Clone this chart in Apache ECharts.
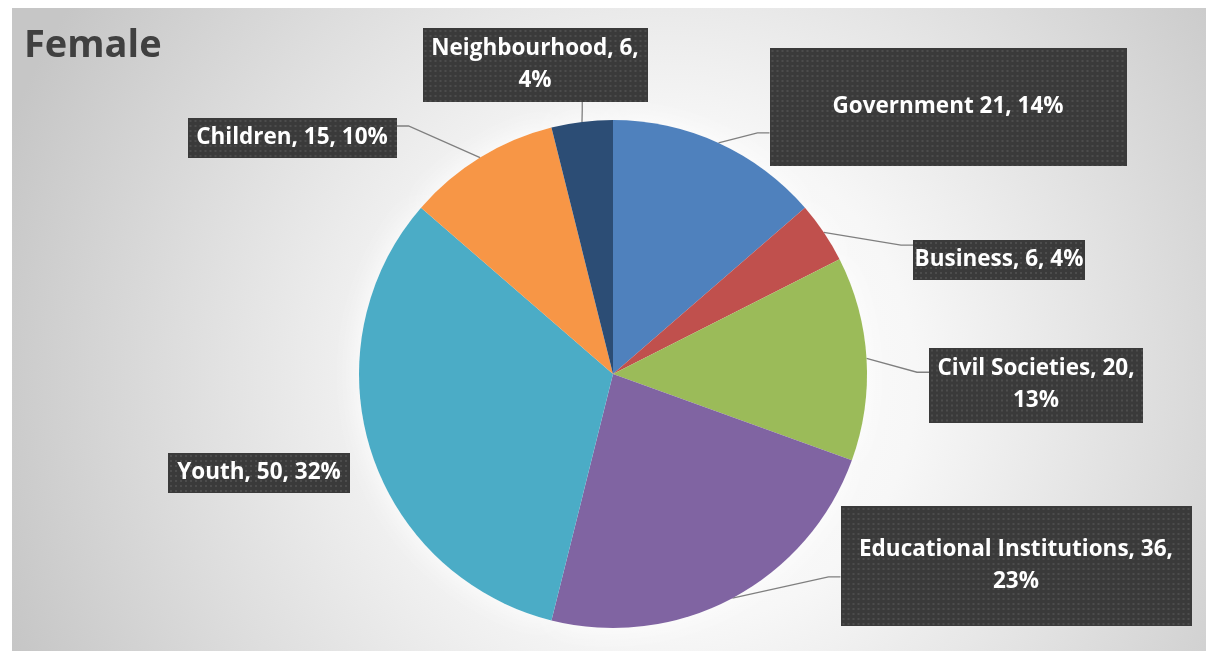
<!DOCTYPE html>
<html>
<head>
<meta charset="utf-8">
<script src="https://cdn.jsdelivr.net/npm/echarts@6/dist/echarts.min.js"></script>
<style>
  html, body { margin: 0; padding: 0; background: #ffffff; }
  #chart { width: 1206px; height: 651px; }
</style>
</head>
<body>
<div id="chart"></div>
<script>
// Partners reached by female participants
const categories = ['Government', 'Business', 'Civil Societies', 'Educational Institutions', 'Youth', 'Children', 'Neighbourhood'];
const values = [21, 6, 20, 36, 50, 15, 6];
const sliceColors = ['#4F81BD', '#C0504D', '#9BBB59', '#8064A2', '#4BACC6', '#F79646', '#2C4D75'];
const nameSeparators = [' ', ', ', ', ', ', ', ', ', ', ', ', '];

// Callout boxes: centre, size, line break before the percentage, leader attachment side/fraction
const labelBoxes = [
  { cx: 948,  cy: 107, w: 357, h: 118, wrap: false, side: 'left',   at: 0.72 },
  { cx: 999,  cy: 260, w: 172, h: 40,  wrap: false, side: 'left',   at: 0.13 },
  { cx: 1036, cy: 385, w: 214, h: 75,  wrap: true,  side: 'left',   at: 0.33 },
  { cx: 1016, cy: 566, w: 351, h: 120, wrap: true,  side: 'left',   at: 0.59 },
  { cx: 259,  cy: 473, w: 182, h: 40,  wrap: false, side: null },
  { cx: 292,  cy: 138, w: 209, h: 40,  wrap: false, side: 'right',  at: 0.2 },
  { cx: 535,  cy: 65,  w: 225, h: 74,  wrap: true,  side: 'bottom', at: 0.71 }
];

const LINE_H = 32;
const TEXT_DROP = 3;
const FONT = '"Open Sans", Lato, sans-serif';

// dark dotted fill used behind each callout
function dottedFill(w, h) {
  const c = document.createElement('canvas');
  c.width = w; c.height = h;
  const g = c.getContext('2d');
  g.fillStyle = '#3a3a3a';
  g.fillRect(0, 0, w, h);
  g.fillStyle = '#4c4c4c';
  for (let y = 2; y < h; y += 5) {
    for (let x = 2; x < w; x += 5) g.fillRect(x, y, 2, 2);
  }
  return c;
}

const pieData = categories.map(function (name, i) {
  const b = labelBoxes[i];
  const lines = b.wrap ? 2 : 1;
  const padY = (b.h - lines * LINE_H) / 2;
  return {
    name: name,
    value: values[i],
    itemStyle: { color: sliceColors[i] },
    label: {
      width: b.w - 16,
      padding: [padY + TEXT_DROP, 8, padY - TEXT_DROP, 8],
      backgroundColor: { image: dottedFill(b.w, b.h) }
    },
    labelLine: { show: !!b.side }
  };
});

const chart = echarts.init(document.getElementById('chart'), null, { renderer: 'canvas' });

chart.setOption({
  animation: false,
  title: {
    text: 'Female',
    left: 24,
    top: 27,
    padding: 0,
    textStyle: { fontFamily: FONT, fontSize: 38, fontWeight: 'bold', color: '#404040' }
  },
  graphic: [{
    type: 'rect',
    z: -10,
    silent: true,
    shape: { x: 12, y: 8, width: 1194, height: 643 },
    style: {
      fill: {
        type: 'radial', x: 0.55, y: 0.58, r: 1.1,
        colorStops: [
          { offset: 0, color: '#ffffff' },
          { offset: 0.35, color: '#f7f7f7' },
          { offset: 0.7, color: '#dddddd' },
          { offset: 1, color: '#c6c6c6' }
        ]
      }
    }
  }],
  series: [
    {
      // soft white glow under the pie
      type: 'pie',
      silent: true,
      center: [613, 374],
      radius: 254,
      startAngle: 90,
      data: values.map(function (v) { return { value: v }; }),
      label: { show: false },
      labelLine: { show: false },
      itemStyle: { color: '#ffffff', shadowBlur: 30, shadowColor: 'rgba(255,255,255,1)' },
      z: 1
    },
    {
      type: 'pie',
      center: [613, 374],
      radius: 254,
      startAngle: 90,
      clockwise: true,
      avoidLabelOverlap: false,
      percentPrecision: 0,
      z: 2,
      data: pieData,
      label: {
        show: true,
        position: 'outside',
        alignTo: 'none',
        fontFamily: FONT,
        fontSize: 22.5,
        fontWeight: 'bold',
        color: '#ffffff',
        lineHeight: LINE_H,
        align: 'center',
        overflow: 'none',
        shadowColor: 'rgba(0,0,0,0.45)',
        shadowBlur: 5,
        shadowOffsetX: 3,
        shadowOffsetY: 3,
        formatter: function (p) {
          const b = labelBoxes[p.dataIndex];
          return p.name + nameSeparators[p.dataIndex] + p.value + ',' + (b.wrap ? '\n' : ' ') + p.percent + '%';
        }
      },
      labelLine: {
        show: true,
        length: 20,
        length2: 12,
        lineStyle: { color: '#7f7f7f', width: 1.3 }
      },
      labelLayout: function (p) {
        const b = labelBoxes[p.dataIndex];
        const out = { x: b.cx, y: b.cy, align: 'center', verticalAlign: 'middle' };
        const pts = p.labelLinePoints;
        if (b.side && pts) {
          const left = b.cx - b.w / 2;
          const top = b.cy - b.h / 2;
          let end, bend;
          if (b.side === 'left') {
            end = [left, top + b.h * b.at];
            bend = [left - 12, end[1]];
          } else if (b.side === 'right') {
            end = [left + b.w, top + b.h * b.at];
            bend = [end[0] + 12, end[1]];
          } else {
            end = [left + b.w * b.at, top + b.h];
            bend = [end[0], end[1] + 8];
          }
          out.labelLinePoints = [pts[0], bend, end];
        }
        return out;
      }
    }
  ]
});
</script>
</body>
</html>
